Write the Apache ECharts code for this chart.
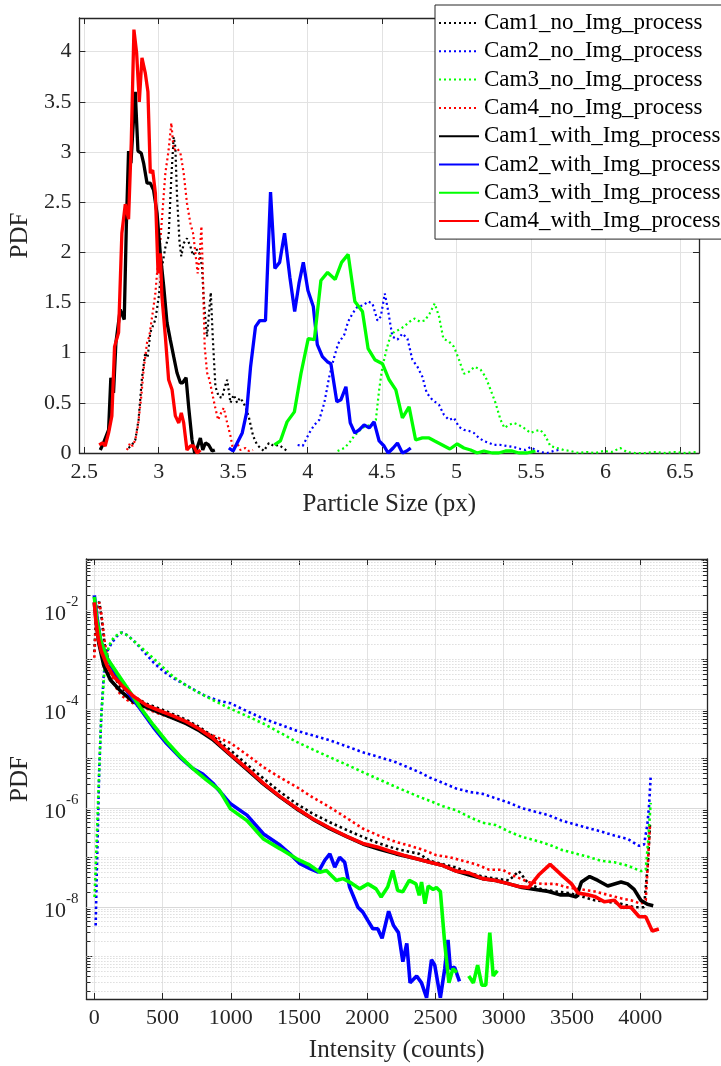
<!DOCTYPE html>
<html><head><meta charset="utf-8">
<script src="https://cdn.jsdelivr.net/npm/echarts@6/dist/echarts.min.js"></script>
<style>html,body{margin:0;padding:0;background:#fff}#c{width:721px;height:1066px}</style>
</head><body><div id="c"></div>
<script>
// ---------- names ----------
const seriesNames = ['Cam1_no_Img_process','Cam2_no_Img_process','Cam3_no_Img_process','Cam4_no_Img_process',
  'Cam1_with_Img_process','Cam2_with_Img_process','Cam3_with_Img_process','Cam4_with_Img_process'];
const seriesColors = ['#000000','#0000ff','#00ff00','#ff0000','#000000','#0000ff','#00ff00','#ff0000'];
const seriesDotted = [true,true,true,true,false,false,false,false];

// ---------- top plot: PDF vs particle size (px) ----------
const sizeCam1No = [[2.798,0.05],[2.82,0.08],[2.843,0.13],[2.865,0.33],[2.888,0.75],[2.91,1.0],[2.926,0.95],[2.944,1.2],[2.978,1.33],[3.0,1.55],[3.022,1.85],[3.045,2.05],[3.067,2.16],[3.085,2.75],[3.101,3.15],[3.112,3.05],[3.123,2.57],[3.14,2.1],[3.152,1.96],[3.168,2.09],[3.19,2.14],[3.213,2.06],[3.23,1.97],[3.242,1.96],[3.258,2.03],[3.274,1.99],[3.291,1.86],[3.303,1.52],[3.314,1.33],[3.325,1.16],[3.341,1.45],[3.35,1.6],[3.363,1.16],[3.381,0.66],[3.404,0.56],[3.426,0.55],[3.442,0.65],[3.46,0.73],[3.482,0.50],[3.504,0.58],[3.527,0.50],[3.545,0.55],[3.561,0.52],[3.583,0.46],[3.605,0.36],[3.634,0.17],[3.661,0.08],[3.684,0.05],[3.706,0.02],[3.74,0.10],[3.773,0.07],[3.807,0.08],[3.836,0.05],[3.863,0.02]];
const sizeCam2No = [[3.933,0.08],[3.967,0.07],[4.011,0.20],[4.045,0.28],[4.078,0.33],[4.112,0.50],[4.145,0.76],[4.179,0.96],[4.205,1.09],[4.246,1.18],[4.272,1.31],[4.301,1.39],[4.335,1.46],[4.373,1.47],[4.406,1.51],[4.435,1.49],[4.469,1.32],[4.491,1.36],[4.518,1.59],[4.54,1.42],[4.569,1.16],[4.603,1.13],[4.636,1.19],[4.67,1.14],[4.703,0.93],[4.737,0.86],[4.77,0.76],[4.799,0.60],[4.837,0.53],[4.882,0.48],[4.915,0.38],[4.949,0.33],[4.982,0.35],[5.016,0.26],[5.049,0.23],[5.083,0.22],[5.116,0.20],[5.15,0.15],[5.183,0.12],[5.217,0.10],[5.25,0.08],[5.295,0.08],[5.339,0.07],[5.384,0.06],[5.429,0.04],[5.462,0.03],[5.496,0.06],[5.529,0.03],[5.562,0.01],[5.607,0.0],[5.652,0.02],[5.685,0.03]];
const sizeCam3No = [[4.201,0.02],[4.246,0.05],[4.279,0.10],[4.313,0.17],[4.346,0.22],[4.379,0.26],[4.424,0.28],[4.458,0.33],[4.48,0.63],[4.502,0.86],[4.531,1.04],[4.558,1.18],[4.585,1.21],[4.614,1.23],[4.647,1.26],[4.685,1.31],[4.719,1.34],[4.752,1.31],[4.786,1.32],[4.819,1.39],[4.853,1.49],[4.882,1.36],[4.911,1.14],[4.949,1.11],[4.982,1.06],[5.016,0.93],[5.049,0.79],[5.083,0.81],[5.121,0.86],[5.161,0.83],[5.194,0.76],[5.228,0.63],[5.261,0.50],[5.295,0.33],[5.321,0.25],[5.35,0.28],[5.384,0.30],[5.417,0.28],[5.451,0.25],[5.496,0.20],[5.529,0.22],[5.562,0.23],[5.596,0.17],[5.629,0.07],[5.674,0.05],[5.719,0.03],[5.763,0.02],[5.819,0.0],[5.875,0.01],[5.931,0.0],[5.987,0.02],[6.042,0.01],[6.098,0.05],[6.143,0.01],[6.199,0.0],[6.266,0.0],[6.333,0.01],[6.4,0.0],[6.467,0.01],[6.533,0.0],[6.612,0.01]];
const sizeCam4No = [[2.787,0.03],[2.809,0.10],[2.825,0.07],[2.843,0.13],[2.861,0.27],[2.883,0.56],[2.899,0.83],[2.922,1.10],[2.937,1.16],[2.96,1.40],[2.978,1.59],[2.989,1.79],[3.007,2.03],[3.022,2.33],[3.045,2.79],[3.067,3.02],[3.085,3.29],[3.101,3.02],[3.123,3.04],[3.146,2.99],[3.168,2.79],[3.19,2.49],[3.213,2.29],[3.231,2.19],[3.247,1.99],[3.262,1.79],[3.276,1.99],[3.287,2.26],[3.296,1.83],[3.309,1.06],[3.325,0.80],[3.341,0.73],[3.359,0.60],[3.377,0.47],[3.399,0.33],[3.422,0.41],[3.437,0.45],[3.46,0.30],[3.482,0.17],[3.5,0.03],[3.527,0.10],[3.549,0.03],[3.583,0.05],[3.605,0.02],[3.634,0.03]];
const sizeCam1With = [[2.608,0.03],[2.63,0.10],[2.664,0.23],[2.679,0.75],[2.697,0.60],[2.713,1.10],[2.742,1.43],[2.769,1.33],[2.783,2.26],[2.798,3.01],[2.814,2.89],[2.827,3.22],[2.843,3.60],[2.861,3.01],[2.883,2.99],[2.899,2.89],[2.922,2.69],[2.944,2.69],[2.966,2.62],[2.989,2.39],[3.011,1.99],[3.034,1.66],[3.056,1.30],[3.078,1.13],[3.101,0.96],[3.123,0.80],[3.146,0.70],[3.161,0.70],[3.184,0.75],[3.202,0.45],[3.224,0.13],[3.242,0.0],[3.258,0.05],[3.28,0.15],[3.296,0.03],[3.314,0.10],[3.336,0.08],[3.359,0.02],[3.377,0.03]];
const sizeCam2With = [[3.471,0.05],[3.5,0.02],[3.527,0.10],[3.561,0.20],[3.59,0.40],[3.617,0.86],[3.65,1.26],[3.679,1.32],[3.717,1.32],[3.751,2.60],[3.78,1.84],[3.812,1.90],[3.845,2.19],[3.881,1.75],[3.913,1.41],[3.942,1.69],[3.971,1.90],[4.002,1.62],[4.038,1.46],[4.065,1.08],[4.099,0.96],[4.132,0.91],[4.156,0.89],[4.196,0.51],[4.223,0.53],[4.257,0.66],[4.286,0.30],[4.317,0.20],[4.346,0.23],[4.379,0.28],[4.413,0.25],[4.446,0.31],[4.48,0.12],[4.513,0.07],[4.54,0.0],[4.574,0.05],[4.603,0.10],[4.636,0.0],[4.665,0.02],[4.692,0.05]];
const sizeCam3With = [[3.777,0.08],[3.817,0.12],[3.862,0.31],[3.911,0.41],[3.955,0.79],[4.004,1.14],[4.045,1.13],[4.089,1.72],[4.134,1.80],[4.185,1.73],[4.228,1.90],[4.272,1.98],[4.317,1.51],[4.368,1.41],[4.406,1.04],[4.451,0.93],[4.502,0.89],[4.547,0.73],[4.592,0.63],[4.636,0.35],[4.681,0.46],[4.725,0.13],[4.77,0.15],[4.815,0.15],[4.853,0.12],[4.904,0.08],[4.955,0.04],[5.004,0.09],[5.049,0.05],[5.094,0.03],[5.138,0.0],[5.183,0.02],[5.239,0.0],[5.283,0.0],[5.328,0.02],[5.373,0.02],[5.417,0.0],[5.473,0.0],[5.529,0.02]];
const sizeCam4With = [[2.601,0.08],[2.623,0.10],[2.641,0.07],[2.664,0.20],[2.686,0.37],[2.704,1.06],[2.731,1.20],[2.753,2.19],[2.776,2.48],[2.798,2.33],[2.816,3.09],[2.834,4.22],[2.852,3.99],[2.87,3.5],[2.888,3.94],[2.91,3.79],[2.928,3.60],[2.944,2.79],[2.96,2.82],[2.978,2.59],[2.996,1.79],[3.011,1.99],[3.022,1.56],[3.045,1.16],[3.067,0.73],[3.09,0.63],[3.112,0.37],[3.135,0.30],[3.152,0.40],[3.168,0.30],[3.19,0.03],[3.213,0.07],[3.235,0.07],[3.258,0.0],[3.28,0.03]];

// ---------- bottom plot: PDF vs intensity (counts) ----------
const intensityCam1No = [[0,1.4e-3],[10,5.0e-3],[25,1.26e-2],[36,1.45e-2],[53,7.1e-3],[75,2.04e-3],[118,6.3e-4],[191,2.7e-4],[287,1.78e-4],[384,1.26e-4],[481,1.0e-4],[577,7.8e-5],[674,6.0e-5],[770,4.27e-5],[867,2.8e-5],[998,1.45e-5],[1120,7.4e-6],[1240,3.9e-6],[1360,2.1e-6],[1483,1.2e-6],[1600,7.6e-7],[1726,5.1e-7],[1850,3.55e-7],[1968,2.57e-7],[2090,1.9e-7],[2211,1.48e-7],[2381,1.17e-7],[2459,8.5e-8],[2556,7.2e-8],[2652,6.2e-8],[2749,4.8e-8],[2845,4.1e-8],[2942,3.7e-8],[3039,3.4e-8],[3111,5.25e-8],[3183,2.9e-8],[3280,2.24e-8],[3377,2.04e-8],[3473,1.9e-8],[3570,1.62e-8],[3666,1.35e-8],[3763,1.26e-8],[3860,1.15e-8],[3956,9.8e-9],[4029,9.8e-9],[4058,8.5e-8],[4072,4.6e-7]];
const intensityCam2No = [[10,4.2e-9],[17,3.7e-8],[27,4.6e-7],[36,5.8e-6],[51,7.1e-5],[70,5.2e-4],[94,1.45e-3],[130,2.2e-3],[167,2.95e-3],[203,3.47e-3],[251,2.95e-3],[300,2.2e-3],[360,1.45e-3],[432,8.7e-4],[505,5.75e-4],[577,4.2e-4],[650,3.24e-4],[722,2.5e-4],[819,1.78e-4],[915,1.45e-4],[998,1.29e-4],[1120,8.9e-5],[1240,6.3e-5],[1360,4.8e-5],[1483,3.6e-5],[1600,2.9e-5],[1726,2.3e-5],[1850,1.74e-5],[1968,1.32e-5],[2090,1.05e-5],[2211,8.3e-6],[2381,5.25e-6],[2459,4.07e-6],[2556,3.16e-6],[2652,2.45e-6],[2749,2.09e-6],[2845,1.91e-6],[2942,1.55e-6],[3039,1.26e-6],[3135,9.8e-7],[3232,8.3e-7],[3328,7.1e-7],[3425,5.5e-7],[3522,4.6e-7],[3618,3.9e-7],[3715,3.3e-7],[3811,2.75e-7],[3908,2.34e-7],[3993,1.7e-7],[4029,1.82e-7],[4053,4.6e-7],[4065,1.07e-6],[4077,4.07e-6]];
const intensityCam3No = [[2,1.58e-8],[17,2.0e-7],[31,2.45e-6],[51,7.1e-5],[75,6.3e-4],[106,1.86e-3],[142,2.75e-3],[191,3.47e-3],[239,3.09e-3],[300,2.2e-3],[360,1.58e-3],[432,1.05e-3],[505,6.8e-4],[577,4.47e-4],[674,2.95e-4],[770,2.09e-4],[867,1.51e-4],[998,1.0e-4],[1120,7.1e-5],[1240,5.0e-5],[1360,3.3e-5],[1483,2.14e-5],[1600,1.51e-5],[1726,1.05e-5],[1850,7.4e-6],[1968,5.25e-6],[2090,3.7e-6],[2211,2.63e-6],[2381,1.66e-6],[2459,1.38e-6],[2556,1.07e-6],[2652,8.9e-7],[2749,6.5e-7],[2845,5.0e-7],[2942,4.47e-7],[3039,3.3e-7],[3135,2.57e-7],[3232,2.19e-7],[3328,1.82e-7],[3425,1.41e-7],[3522,1.2e-7],[3618,1.02e-7],[3715,8.5e-8],[3811,7.9e-8],[3908,6.8e-8],[4005,5.25e-8],[4041,5.6e-8],[4058,2.0e-7],[4077,1.26e-6]];
const intensityCam4No = [[0,1.07e-3],[7,2.8e-3],[22,1.1e-2],[36,1.41e-2],[53,7.8e-3],[75,2.4e-3],[106,6.3e-4],[142,3.24e-4],[191,1.95e-4],[239,1.51e-4],[312,1.17e-4],[384,1.0e-4],[456,8.3e-5],[529,7.1e-5],[601,6.0e-5],[674,5.0e-5],[746,4.17e-5],[819,3.3e-5],[891,2.7e-5],[998,2.04e-5],[1120,1.17e-5],[1240,6.6e-6],[1360,4.1e-6],[1483,2.63e-6],[1600,1.62e-6],[1726,1.02e-6],[1850,6.2e-7],[1968,3.8e-7],[2090,2.7e-7],[2211,2.04e-7],[2314,1.7e-7],[2411,1.41e-7],[2507,1.1e-7],[2604,1.0e-7],[2701,8.5e-8],[2797,7.2e-8],[2894,5.6e-8],[2990,5.6e-8],[3087,4.07e-8],[3183,3.16e-8],[3280,2.9e-8],[3377,2.9e-8],[3473,2.45e-8],[3570,2.24e-8],[3666,2.04e-8],[3763,1.74e-8],[3860,1.48e-8],[3932,1.35e-8],[4005,1.15e-8],[4041,1.35e-8],[4058,8.5e-8],[4072,4.6e-7]];
const intensityCam1With = [[0,1.41e-2],[17,4.7e-3],[34,2.04e-3],[70,7.4e-4],[118,3.8e-4],[191,2.3e-4],[287,1.38e-4],[384,1.07e-4],[481,8.3e-5],[577,6.5e-5],[674,5.0e-5],[770,3.6e-5],[867,2.4e-5],[998,1.15e-5],[1120,5.9e-6],[1240,3.0e-6],[1360,1.66e-6],[1483,9.5e-7],[1600,5.9e-7],[1726,3.8e-7],[1850,2.6e-7],[1968,1.86e-7],[2090,1.45e-7],[2211,1.17e-7],[2362,9.3e-8],[2459,7.9e-8],[2556,6.8e-8],[2652,5.25e-8],[2749,4.37e-8],[2845,3.7e-8],[2942,3.4e-8],[3039,2.9e-8],[3135,2.45e-8],[3232,2.24e-8],[3328,2.04e-8],[3413,1.74e-8],[3473,1.74e-8],[3533,1.58e-8],[3570,3.16e-8],[3630,4.07e-8],[3690,3.4e-8],[3763,2.63e-8],[3860,3.16e-8],[3908,2.9e-8],[3956,2.24e-8],[4005,1.35e-8],[4053,1.12e-8],[4096,1.05e-8]];
const intensityCam2With = [[0,1.95e-2],[17,7.8e-3],[46,2.4e-3],[94,1.05e-3],[167,4.47e-4],[239,2.3e-4],[336,1.0e-4],[432,4.27e-5],[529,2.0e-5],[625,1.07e-5],[722,6.2e-6],[795,4.8e-6],[867,3.16e-6],[998,1.2e-6],[1119,7.1e-7],[1240,2.95e-7],[1362,1.74e-7],[1434,1.17e-7],[1507,7.4e-8],[1580,5.9e-8],[1641,5.0e-8],[1689,8.7e-8],[1726,1.17e-7],[1762,6.3e-8],[1798,1.0e-7],[1835,7.9e-8],[1871,2.5e-8],[1932,9.8e-9],[1968,7.8e-9],[2005,5.25e-9],[2041,3.6e-9],[2077,3.6e-9],[2109,2.3e-9],[2157,8.1e-9],[2193,4.17e-9],[2229,3.0e-9],[2261,7.8e-10],[2290,1.82e-9],[2314,2.9e-10],[2362,4.0e-10],[2398,2.9e-10],[2435,1.45e-10],[2471,8.5e-10],[2495,6.6e-10],[2536,1.45e-10],[2568,5.6e-10],[2592,2.14e-9],[2609,5.6e-10],[2640,6.0e-10],[2676,3.1e-10]];
const intensityCam3With = [[0,1.82e-2],[17,6.6e-3],[46,2.4e-3],[94,1.05e-3],[167,5.25e-4],[239,2.7e-4],[336,1.07e-4],[432,4.7e-5],[529,2.19e-5],[625,1.12e-5],[722,6.2e-6],[819,3.7e-6],[915,2.3e-6],[998,9.5e-7],[1119,5.5e-7],[1240,2.34e-7],[1362,1.48e-7],[1483,9.3e-8],[1580,6.9e-8],[1653,5.0e-8],[1701,5.4e-8],[1774,3.4e-8],[1823,3.7e-8],[1871,3.16e-8],[1944,2.3e-8],[2005,2.9e-8],[2065,2.3e-8],[2102,1.58e-8],[2150,2.5e-8],[2187,5.4e-8],[2223,2.14e-8],[2260,2.0e-8],[2308,3.4e-8],[2357,2.9e-8],[2381,1.7e-8],[2398,3.16e-8],[2423,1.15e-8],[2447,2.63e-8],[2483,2.24e-8],[2507,2.45e-8],[2536,2.04e-8],[2568,1.82e-9],[2599,2.9e-10],[2628,5.6e-10],[2657,4.7e-10],[2700,null],[2744,4.0e-10],[2778,2.9e-10],[2809,6.6e-10],[2840,2.6e-10],[2869,2.6e-10],[2898,3.0e-9],[2923,4.0e-10],[2954,5.1e-10]];
const intensityCam4With = [[0,1.41e-2],[10,6.6e-3],[27,2.8e-3],[51,1.45e-3],[94,7.4e-4],[142,4.47e-4],[215,2.7e-4],[287,1.78e-4],[384,1.17e-4],[481,9.1e-5],[577,7.2e-5],[674,5.5e-5],[770,3.9e-5],[867,2.57e-5],[998,1.2e-5],[1120,6.2e-6],[1240,3.1e-6],[1360,1.7e-6],[1483,9.8e-7],[1600,6.0e-7],[1726,3.9e-7],[1850,2.65e-7],[1968,1.9e-7],[2073,1.62e-7],[2169,1.32e-7],[2266,1.1e-7],[2362,9.3e-8],[2459,7.9e-8],[2556,6.8e-8],[2652,5.25e-8],[2749,4.8e-8],[2845,3.7e-8],[2942,3.4e-8],[3039,2.9e-8],[3111,2.57e-8],[3183,2.45e-8],[3256,4.37e-8],[3340,7.2e-8],[3425,4.37e-8],[3497,2.9e-8],[3545,1.9e-8],[3618,1.74e-8],[3666,1.62e-8],[3739,1.26e-8],[3811,1.35e-8],[3860,9.8e-9],[3932,9.8e-9],[3993,6.3e-9],[4041,6.3e-9],[4089,3.24e-9],[4137,3.55e-9]];

// ---------- axes ----------
const sizeRange = [2.468, 6.627];
const sizeTickStep = 0.5;
const pdfRange = [0, 4.336];
const pdfTickStep = 0.5;
const intensityRange = [-58, 4490];
const intensityTickStep = 500;
const logPdfRange = [1.37e-10, 0.106];
const logLabelExponents = [-2, -4, -6, -8];

const sizeSeriesData = [sizeCam1No,sizeCam2No,sizeCam3No,sizeCam4No,sizeCam1With,sizeCam2With,sizeCam3With,sizeCam4With];
const intensitySeriesData = [intensityCam1No,intensityCam2No,intensityCam3No,intensityCam4No,intensityCam1With,intensityCam2With,intensityCam3With,intensityCam4With];

const FONT = "'Liberation Serif','Times New Roman',serif";
const AX = '#262626';
const GRIDC = '#e2e2e2';

function isMultiple(v, step) { const q = v / step; return Math.abs(q - Math.round(q)) < 1e-7; }

const axisLineCfg = {show: true, onZero: false, lineStyle: {color: AX, width: 1.3}};
const tickCfg = {show: true, inside: true, length: 6, lineStyle: {color: AX, width: 1}};
const labelCfg = {fontSize: 22, color: AX, fontFamily: FONT, margin: 8};
const nameStyle = {fontSize: 25, color: AX, fontFamily: FONT};

const xAxes = [
  {gridIndex: 0, type: 'value', position: 'bottom', min: sizeRange[0], max: sizeRange[1],
   minInterval: sizeTickStep, maxInterval: sizeTickStep, splitNumber: 8,
   axisLine: axisLineCfg, axisTick: tickCfg,
   axisLabel: Object.assign({}, labelCfg, {formatter: v => isMultiple(v, sizeTickStep) ? String(v) : ''}),
   splitLine: {show: true, lineStyle: {color: GRIDC, width: 1}},
   name: 'Particle Size (px)', nameLocation: 'middle', nameGap: 39, nameTextStyle: nameStyle},
  {gridIndex: 0, type: 'value', position: 'top', min: sizeRange[0], max: sizeRange[1],
   minInterval: sizeTickStep, maxInterval: sizeTickStep, splitNumber: 8,
   axisLine: axisLineCfg, axisTick: tickCfg, axisLabel: {show: false}, splitLine: {show: false}},
  {gridIndex: 1, type: 'value', position: 'bottom', min: intensityRange[0], max: intensityRange[1],
   minInterval: intensityTickStep, maxInterval: intensityTickStep, splitNumber: 9,
   axisLine: axisLineCfg, axisTick: tickCfg,
   axisLabel: Object.assign({}, labelCfg, {formatter: v => (v >= 0 && isMultiple(v, intensityTickStep)) ? String(Math.round(v)) : ''}),
   splitLine: {show: true, lineStyle: {color: GRIDC, width: 1}},
   name: 'Intensity (counts)', nameLocation: 'middle', nameGap: 39, nameTextStyle: nameStyle},
  {gridIndex: 1, type: 'value', position: 'top', min: intensityRange[0], max: intensityRange[1],
   minInterval: intensityTickStep, maxInterval: intensityTickStep, splitNumber: 9,
   axisLine: axisLineCfg, axisTick: tickCfg, axisLabel: {show: false}, splitLine: {show: false}}
];

function logLabel(v) {
  const l = Math.log10(v); const e = Math.round(l);
  if (Math.abs(l - e) > 1e-6 || logLabelExponents.indexOf(e) < 0) return '';
  return '{b|10}{s|' + e + '}';
}
const logRich = {
  b: {fontSize: 22, fontFamily: FONT, color: AX, lineHeight: 30, verticalAlign: 'bottom'},
  s: {fontSize: 15, fontFamily: FONT, color: AX, lineHeight: 18, verticalAlign: 'top'}
};

const yAxes = [
  {gridIndex: 0, type: 'value', position: 'left', min: pdfRange[0], max: pdfRange[1], interval: pdfTickStep,
   axisLine: axisLineCfg, axisTick: tickCfg,
   axisLabel: Object.assign({}, labelCfg, {formatter: v => isMultiple(v, pdfTickStep) ? String(v) : ''}),
   splitLine: {show: true, lineStyle: {color: GRIDC, width: 1}},
   name: 'PDF', nameLocation: 'middle', nameGap: 43, nameRotate: 90, nameTextStyle: nameStyle},
  {gridIndex: 0, type: 'value', position: 'right', min: pdfRange[0], max: pdfRange[1], interval: pdfTickStep,
   axisLine: axisLineCfg, axisTick: tickCfg, axisLabel: {show: false}, splitLine: {show: false}},
  {gridIndex: 1, type: 'log', position: 'left', min: logPdfRange[0], max: logPdfRange[1], logBase: 10,
   axisLine: axisLineCfg, axisTick: tickCfg,
   axisLabel: Object.assign({}, labelCfg, {formatter: logLabel, rich: logRich}),
   splitLine: {show: false},
   name: 'PDF', nameLocation: 'middle', nameGap: 51, nameRotate: 90, nameTextStyle: nameStyle},
  {gridIndex: 1, type: 'log', position: 'right', min: logPdfRange[0], max: logPdfRange[1], logBase: 10,
   axisLine: axisLineCfg, axisTick: tickCfg, axisLabel: {show: false}, splitLine: {show: false}}
];

// decorative log grid (major solid every 2 decades, dotted minor) + minor edge ticks
const decoLines = [];
for (let e = -11; e <= 0; e++) {
  for (let m = 1; m <= 9; m++) {
    const v = m * Math.pow(10, e);
    if (v <= logPdfRange[0] || v >= logPdfRange[1]) continue;
    const major = (m === 1 && e % 2 === 0);
    decoLines.push({yAxis: v, lineStyle: major ? {color: '#d9d9d9', width: 1, type: 'solid'} : {color: '#cdcdcd', width: 1, type: [1, 2]}});
    if (m > 1) {
      const tl = 30;
      decoLines.push([{coord: [intensityRange[0], v], lineStyle: {color: AX, width: 1, type: 'solid'}}, {coord: [intensityRange[0] + tl, v]}]);
      decoLines.push([{coord: [intensityRange[1] - tl, v], lineStyle: {color: AX, width: 1, type: 'solid'}}, {coord: [intensityRange[1], v]}]);
    }
  }
}

const series = [];
series.push({
  type: 'line', name: '__loggrid', xAxisIndex: 2, yAxisIndex: 2, data: [], silent: true, z: 1,
  markLine: {silent: true, z: 1, precision: 20, symbol: ['none', 'none'], animation: false, label: {show: false},
    emphasis: {disabled: true}, data: decoLines}
});
for (let i = 0; i < 8; i++) {
  series.push({
    type: 'line', name: seriesNames[i], xAxisIndex: 0, yAxisIndex: 0, data: sizeSeriesData[i],
    symbol: 'none', showSymbol: false, z: 2, connectNulls: false,
    lineStyle: seriesDotted[i] ? {color: seriesColors[i], width: 2.2, type: [2, 3]} : {color: seriesColors[i], width: 3.3, type: 'solid'},
    itemStyle: {color: seriesColors[i]}
  });
}
for (let i = 0; i < 8; i++) {
  series.push({
    type: 'line', name: seriesNames[i], xAxisIndex: 2, yAxisIndex: 2, data: intensitySeriesData[i],
    symbol: 'none', showSymbol: false, z: 2, connectNulls: false,
    lineStyle: seriesDotted[i] ? {color: seriesColors[i], width: 2.6, type: [2.5, 3]} : {color: seriesColors[i], width: 3.6, type: 'solid'},
    itemStyle: {color: seriesColors[i]}
  });
}

const chart = echarts.init(document.getElementById('c'), null, {renderer: 'canvas'});
chart.setOption({
  animation: false,
  backgroundColor: '#ffffff',
  grid: [
    {left: 78, top: 18, width: 621, height: 435, containLabel: false},
    {left: 79, top: 559, width: 628, height: 440, containLabel: false}
  ],
  legend: {
    data: seriesNames, orient: 'vertical', left: 435, top: 5,
    padding: [5, 10, 5, 3], itemGap: 2.3, itemWidth: 40, itemHeight: 14,
    backgroundColor: '#ffffff', borderColor: AX, borderWidth: 1,
    textStyle: {fontSize: 23, fontFamily: FONT, color: '#000', lineHeight: 26},
    itemStyle: {opacity: 0}, selectedMode: false
  },
  xAxis: xAxes,
  yAxis: yAxes,
  series: series
});
</script>
</body></html>
